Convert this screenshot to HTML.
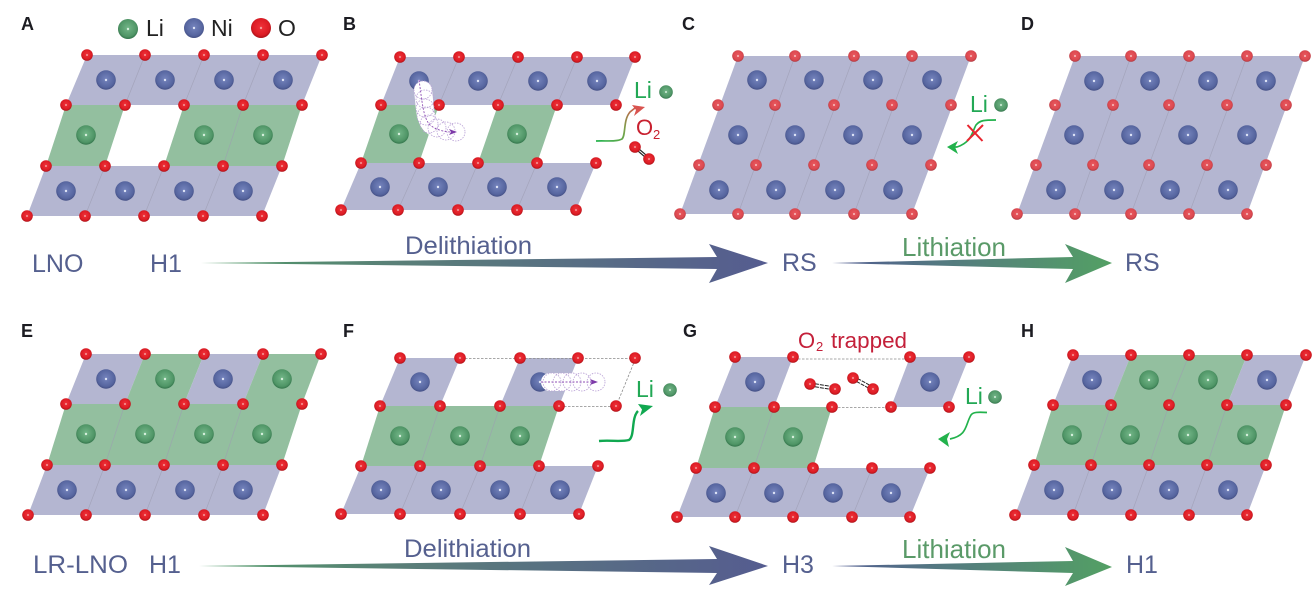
<!DOCTYPE html>
<html lang="en"><head><meta charset="utf-8"><title>LNO and LR-LNO delithiation and lithiation</title>
<style>
html,body{margin:0;padding:0;background:#fff;width:1314px;height:593px;overflow:hidden}
svg{display:block}
text{font-family:"Liberation Sans",sans-serif}
.lab{font-size:25px;fill:#55608f}
.pl{font-size:18px;font-weight:bold;fill:#1c1c22}
.leg{font-size:23px;fill:#222}
.del{font-size:25px;fill:#55608f}
.lit{font-size:26px;fill:#5a9a68}
.gr{font-size:22px;fill:#22a855}
.rd{font-size:22px;fill:#c4203a}
.p{fill:#b4b6d1}.g{fill:#93bf9f}
.d{stroke:#9c9cb2;stroke-width:.7;fill:none;opacity:.7}
.dash{stroke:#8a8a8a;stroke-width:.8;stroke-dasharray:2.5 1.5;fill:none}
.v{fill:none;stroke:#b9a0d6;stroke-width:.8;stroke-dasharray:1.5 1.2}
</style></head><body>
<svg xmlns="http://www.w3.org/2000/svg" width="1314" height="593" viewBox="0 0 1314 593">
<defs>
<radialGradient id="gN" cx=".5" cy=".45" r=".55"><stop offset="0" stop-color="#7584bd"/><stop offset=".78" stop-color="#56659f"/><stop offset="1" stop-color="#444f84"/></radialGradient>
<radialGradient id="gL" cx=".5" cy=".45" r=".55"><stop offset="0" stop-color="#73b688"/><stop offset=".78" stop-color="#4f9566"/><stop offset="1" stop-color="#32734a"/></radialGradient>
<radialGradient id="gO" cx=".5" cy=".45" r=".55"><stop offset="0" stop-color="#f0323a"/><stop offset=".75" stop-color="#dc1c24"/><stop offset="1" stop-color="#a81219"/></radialGradient>
<radialGradient id="gP" cx=".5" cy=".45" r=".55"><stop offset="0" stop-color="#ea5a60"/><stop offset=".75" stop-color="#db484f"/><stop offset="1" stop-color="#aa3a42"/></radialGradient>
<linearGradient id="gd" x1="0" x2="1" y1="0" y2="0"><stop offset="0" stop-color="#4f9a66"/><stop offset=".35" stop-color="#5a7f78"/><stop offset="1" stop-color="#555c90"/></linearGradient>
<linearGradient id="gi" x1="0" x2="1" y1="0" y2="0"><stop offset="0" stop-color="#4f5a90"/><stop offset=".4" stop-color="#547a80"/><stop offset="1" stop-color="#53a064"/></linearGradient>
<linearGradient id="gb" gradientUnits="userSpaceOnUse" x1="600" y1="141" x2="640" y2="108"><stop offset="0" stop-color="#2bb34f"/><stop offset=".5" stop-color="#7aa24a"/><stop offset="1" stop-color="#dc4f4c"/></linearGradient>
<g id="n"><circle r="9.8" fill="url(#gN)"/><circle r="1.2" fill="#dde3f6"/></g>
<g id="l"><circle r="9.8" fill="url(#gL)"/><circle r="1.2" fill="#d5efdc"/></g>
<g id="o"><circle r="5.8" fill="url(#gO)"/><circle r="1" fill="#f59a9a"/></g>
<g id="q"><circle r="5.8" fill="url(#gP)"/><circle r="1" fill="#f8c0c0"/></g>
<g id="ls"><circle r="6.8" fill="url(#gL)"/><circle r="1" fill="#d5efdc"/></g>
</defs>
<rect width="1314" height="593" fill="#fff"/>

<!-- Panel labels and legend -->
<text class="pl" x="21" y="30">A</text><text class="pl" x="343" y="30">B</text><text class="pl" x="682" y="30">C</text><text class="pl" x="1021" y="30">D</text>
<text class="pl" x="21" y="337">E</text><text class="pl" x="343" y="337">F</text><text class="pl" x="683" y="337">G</text><text class="pl" x="1021" y="337">H</text>
<circle cx="128" cy="29" r="10" fill="url(#gL)"/><circle cx="128" cy="29" r="1.2" fill="#d5efdc"/>
<circle cx="194" cy="28" r="10" fill="url(#gN)"/><circle cx="194" cy="28" r="1.2" fill="#dde3f6"/>
<circle cx="261" cy="28" r="10" fill="url(#gO)"/><circle cx="261" cy="28" r="1.2" fill="#f59a9a"/>
<text class="leg" x="146" y="36">Li</text><text class="leg" x="211" y="36">Ni</text><text class="leg" x="278" y="36">O</text>

<!-- Panel A -->
<polygon class="p" points="87,55 322,55 302,105 66,105"/>
<polygon class="g" points="66,105 125,105 105,166 46,166"/>
<polygon class="g" points="184,105 302,105 282,166 164,166"/>
<polygon class="p" points="46,166 282,166 262,216 27,216"/>
<path class="d" d="M145,55L125,105M204,55L184,105M263,55L243,105M243,105L223,166M105,166L85,216M164,166L144,216M223,166L203,216"/>
<use href="#n" x="106" y="80"/><use href="#n" x="165" y="80"/><use href="#n" x="224" y="80"/><use href="#n" x="283" y="80"/>
<use href="#l" x="86" y="135"/><use href="#l" x="204" y="135"/><use href="#l" x="263" y="135"/>
<use href="#n" x="66" y="191"/><use href="#n" x="125" y="191"/><use href="#n" x="184" y="191"/><use href="#n" x="243" y="191"/>
<use href="#o" x="87" y="55"/><use href="#o" x="145" y="55"/><use href="#o" x="204" y="55"/><use href="#o" x="263" y="55"/><use href="#o" x="322" y="55"/>
<use href="#o" x="66" y="105"/><use href="#o" x="125" y="105"/><use href="#o" x="184" y="105"/><use href="#o" x="243" y="105"/><use href="#o" x="302" y="105"/>
<use href="#o" x="46" y="166"/><use href="#o" x="105" y="166"/><use href="#o" x="164" y="166"/><use href="#o" x="223" y="166"/><use href="#o" x="282" y="166"/>
<use href="#o" x="27" y="216"/><use href="#o" x="85" y="216"/><use href="#o" x="144" y="216"/><use href="#o" x="203" y="216"/><use href="#o" x="262" y="216"/>

<!-- Panel B -->
<polygon class="p" points="400,57 635,57 616,105 381,105"/>
<polygon class="g" points="381,105 439,105 419,163 361,163"/>
<polygon class="g" points="498,105 557,105 537,163 478,163"/>
<polygon class="p" points="361,163 596,163 576,210 341,210"/>
<path class="d" d="M459,57L439,105M518,57L498,105M577,57L557,105M419,163L398,210M478,163L458,210M537,163L517,210"/>
<use href="#n" x="419" y="81"/><use href="#n" x="478" y="81"/><use href="#n" x="538" y="81"/><use href="#n" x="597" y="81"/>
<use href="#l" x="399" y="134"/><use href="#l" x="517" y="134"/>
<use href="#n" x="380" y="187"/><use href="#n" x="438" y="187"/><use href="#n" x="497" y="187"/><use href="#n" x="557" y="187"/>
<use href="#o" x="400" y="57"/><use href="#o" x="459" y="57"/><use href="#o" x="518" y="57"/><use href="#o" x="577" y="57"/><use href="#o" x="635" y="57"/>
<use href="#o" x="381" y="105"/><use href="#o" x="439" y="105"/><use href="#o" x="498" y="105"/><use href="#o" x="557" y="105"/><use href="#o" x="616" y="105"/>
<use href="#o" x="361" y="163"/><use href="#o" x="419" y="163"/><use href="#o" x="478" y="163"/><use href="#o" x="537" y="163"/><use href="#o" x="596" y="163"/>
<use href="#o" x="341" y="210"/><use href="#o" x="398" y="210"/><use href="#o" x="458" y="210"/><use href="#o" x="517" y="210"/><use href="#o" x="576" y="210"/>
<path d="M423,90C425,105 424,118 431,125C438,131 447,132 456,132" fill="none" stroke="#fff" stroke-width="18" stroke-linecap="round"/>
<circle class="v" cx="423" cy="90" r="9"/><circle class="v" cx="425" cy="99" r="9"/><circle class="v" cx="425" cy="108" r="9"/><circle class="v" cx="426" cy="116" r="9"/><circle class="v" cx="429" cy="124" r="9"/><circle class="v" cx="437" cy="128" r="9"/><circle class="v" cx="446" cy="131" r="9"/><circle class="v" cx="456" cy="132" r="9"/>
<path d="M419,80C422,100 423,118 430,125C436,130 445,132 452,132" fill="none" stroke="#8f4fb5" stroke-width=".9" stroke-dasharray="2 1.5"/>
<polygon points="457,132 449,129 451,132 449,135" fill="#7d3aa8"/>
<text class="gr" x="634" y="98" style="font-size:23px">Li</text>
<use href="#ls" x="666" y="92"/>
<text class="rd" x="636" y="135" style="fill:#c8202f">O</text><text x="653" y="139" style="font-size:13px;fill:#c8202f">2</text>
<path d="M596,141C606,140.5 616,142 622,139C626,135 623,120 630,112L635,108" fill="none" stroke="url(#gb)" stroke-width="1.7"/>
<polygon points="645,107 632,105 636,110 634,116" fill="#d9534f"/>
<line x1="635" y1="147" x2="649" y2="159" stroke="#222" stroke-width="3.4"/><line x1="635" y1="147" x2="649" y2="159" stroke="#fff" stroke-width="1"/>
<use href="#o" x="635" y="147"/><use href="#o" x="649" y="159"/>

<!-- Panel C -->
<polygon class="p" points="738,56 971,56 912,214 680,214"/>
<path class="d" d="M795,56L738,214M854,56L795,214M912,56L854,214"/>
<use href="#n" x="757" y="80"/><use href="#n" x="814" y="80"/><use href="#n" x="873" y="80"/><use href="#n" x="932" y="80"/>
<use href="#n" x="738" y="135"/><use href="#n" x="795" y="135"/><use href="#n" x="853" y="135"/><use href="#n" x="912" y="135"/>
<use href="#n" x="719" y="190"/><use href="#n" x="776" y="190"/><use href="#n" x="835" y="190"/><use href="#n" x="893" y="190"/>
<use href="#q" x="738" y="56"/><use href="#q" x="795" y="56"/><use href="#q" x="854" y="56"/><use href="#q" x="912" y="56"/><use href="#q" x="971" y="56"/>
<use href="#q" x="718" y="105"/><use href="#q" x="775" y="105"/><use href="#q" x="834" y="105"/><use href="#q" x="892" y="105"/><use href="#q" x="951" y="105"/>
<use href="#q" x="699" y="165"/><use href="#q" x="756" y="165"/><use href="#q" x="814" y="165"/><use href="#q" x="872" y="165"/><use href="#q" x="931" y="165"/>
<use href="#q" x="680" y="214"/><use href="#q" x="738" y="214"/><use href="#q" x="795" y="214"/><use href="#q" x="854" y="214"/><use href="#q" x="912" y="214"/>
<text class="gr" x="970" y="112" style="font-size:23px">Li</text>
<use href="#ls" x="1001" y="105"/>
<path d="M996,120C985,120 980,120 976,125C972,132 972,142 957,147L952,147" fill="none" stroke="#22b24c" stroke-width="1.7"/>
<polygon points="947,147 958,141 955,147 958,154" fill="#22b24c"/>
<path d="M967.5,125L982.5,141M983,125L967,141" stroke="#e8252f" stroke-width="2" fill="none"/>

<!-- Panel D -->
<polygon class="p" points="1075,56 1305,56 1247,214 1017,214"/>
<path class="d" d="M1131,56L1075,214M1189,56L1131,214M1247,56L1189,214"/>
<use href="#n" x="1094" y="81"/><use href="#n" x="1150" y="81"/><use href="#n" x="1208" y="81"/><use href="#n" x="1266" y="81"/>
<use href="#n" x="1074" y="135"/><use href="#n" x="1131" y="135"/><use href="#n" x="1188" y="135"/><use href="#n" x="1247" y="135"/>
<use href="#n" x="1056" y="190"/><use href="#n" x="1114" y="190"/><use href="#n" x="1170" y="190"/><use href="#n" x="1228" y="190"/>
<use href="#q" x="1075" y="56"/><use href="#q" x="1131" y="56"/><use href="#q" x="1189" y="56"/><use href="#q" x="1247" y="56"/><use href="#q" x="1305" y="56"/>
<use href="#q" x="1055" y="105"/><use href="#q" x="1113" y="105"/><use href="#q" x="1169" y="105"/><use href="#q" x="1227" y="105"/><use href="#q" x="1286" y="105"/>
<use href="#q" x="1036" y="165"/><use href="#q" x="1093" y="165"/><use href="#q" x="1149" y="165"/><use href="#q" x="1207" y="165"/><use href="#q" x="1266" y="165"/>
<use href="#q" x="1017" y="214"/><use href="#q" x="1075" y="214"/><use href="#q" x="1131" y="214"/><use href="#q" x="1189" y="214"/><use href="#q" x="1247" y="214"/>

<!-- Top row labels and arrows -->
<text class="lab" x="32" y="272">LNO</text>
<text class="lab" x="150" y="272">H1</text>
<text class="del" x="405" y="254" textLength="127" lengthAdjust="spacingAndGlyphs">Delithiation</text>
<polygon points="201,263 717,257 709,244 768,263 709,283 717,269" fill="url(#gd)"/>
<text class="lab" x="782" y="271">RS</text>
<text class="lit" x="902" y="256" textLength="104" lengthAdjust="spacingAndGlyphs">Lithiation</text>
<polygon points="832,263 1073,257 1065,244 1112,263 1065,283 1073,269" fill="url(#gi)"/>
<text class="lab" x="1125" y="271">RS</text>

<!-- Panel E -->
<polygon class="p" points="86,354 145,354 125,404 66,404"/>
<polygon class="g" points="145,354 204,354 184,404 125,404"/>
<polygon class="p" points="204,354 263,354 243,404 184,404"/>
<polygon class="g" points="263,354 321,354 302,404 243,404"/>
<polygon class="g" points="66,404 302,404 282,465 47,465"/>
<polygon class="p" points="47,465 282,465 263,515 28,515"/>
<path class="d" d="M125,404L105,465M184,404L164,465M243,404L223,465M105,465L86,515M164,465L145,515M223,465L204,515"/>
<use href="#n" x="106" y="379"/><use href="#l" x="165" y="379"/><use href="#n" x="223" y="379"/><use href="#l" x="282" y="379"/>
<use href="#l" x="86" y="434"/><use href="#l" x="145" y="434"/><use href="#l" x="204" y="434"/><use href="#l" x="262" y="434"/>
<use href="#n" x="67" y="490"/><use href="#n" x="126" y="490"/><use href="#n" x="185" y="490"/><use href="#n" x="243" y="490"/>
<use href="#o" x="86" y="354"/><use href="#o" x="145" y="354"/><use href="#o" x="204" y="354"/><use href="#o" x="263" y="354"/><use href="#o" x="321" y="354"/>
<use href="#o" x="66" y="404"/><use href="#o" x="125" y="404"/><use href="#o" x="184" y="404"/><use href="#o" x="243" y="404"/><use href="#o" x="302" y="404"/>
<use href="#o" x="47" y="465"/><use href="#o" x="105" y="465"/><use href="#o" x="164" y="465"/><use href="#o" x="223" y="465"/><use href="#o" x="282" y="465"/>
<use href="#o" x="28" y="515"/><use href="#o" x="86" y="515"/><use href="#o" x="145" y="515"/><use href="#o" x="204" y="515"/><use href="#o" x="263" y="515"/>

<!-- Panel F -->
<polygon class="p" points="400,358 460,358 440,406 380,406"/>
<polygon class="p" points="520,358 578,358 559,406 500,406"/>
<polygon class="g" points="380,406 559,406 539,466 361,466"/>
<polygon class="p" points="361,466 598,466 579,514 341,514"/>
<path class="d" d="M440,406L420,466M500,406L480,466M420,466L400,514M480,466L460,514M539,466L520,514"/>
<path class="dash" d="M465,358.5H630M635,360L617,404M564,406.5H611"/>
<use href="#n" x="420" y="382"/><use href="#n" x="540" y="382"/>
<use href="#l" x="400" y="436"/><use href="#l" x="460" y="436"/><use href="#l" x="520" y="436"/>
<use href="#n" x="381" y="490"/><use href="#n" x="441" y="490"/><use href="#n" x="500" y="490"/><use href="#n" x="560" y="490"/>
<use href="#o" x="400" y="358"/><use href="#o" x="460" y="358"/><use href="#o" x="520" y="358"/><use href="#o" x="578" y="358"/><use href="#o" x="635" y="358"/>
<use href="#o" x="380" y="406"/><use href="#o" x="440" y="406"/><use href="#o" x="500" y="406"/><use href="#o" x="559" y="406"/><use href="#o" x="616" y="406"/>
<use href="#o" x="361" y="466"/><use href="#o" x="420" y="466"/><use href="#o" x="480" y="466"/><use href="#o" x="539" y="466"/><use href="#o" x="598" y="466"/>
<use href="#o" x="341" y="514"/><use href="#o" x="400" y="514"/><use href="#o" x="460" y="514"/><use href="#o" x="520" y="514"/><use href="#o" x="579" y="514"/>
<line x1="550" y1="382" x2="596" y2="382" stroke="#fff" stroke-width="18" stroke-linecap="round"/>
<circle class="v" cx="552" cy="382" r="9"/><circle class="v" cx="562" cy="382" r="9"/><circle class="v" cx="572" cy="382" r="9"/><circle class="v" cx="582" cy="382" r="9"/><circle class="v" cx="596" cy="382" r="9"/>
<line x1="541" y1="382" x2="592" y2="382" stroke="#8f4fb5" stroke-width=".9" stroke-dasharray="2 1.5"/>
<polygon points="598,382 590,379 592,382 590,385" fill="#7d3aa8"/>
<text class="gr" x="636" y="397" style="font-size:23px">Li</text>
<use href="#ls" x="670" y="390"/>
<path d="M599,441C610,440 622,442 629,440C635,436 631,418 638,411" fill="none" stroke="#10a850" stroke-width="2.4"/>
<polygon points="653,406 638,404 642,409.5 640,416" fill="#10a850"/>

<!-- Panel G -->
<polygon class="p" points="735,357 793,357 774,407 715,407"/>
<polygon class="p" points="910,357 969,357 949,407 891,407"/>
<polygon class="g" points="715,407 832,407 813,468 696,468"/>
<polygon class="p" points="696,468 930,468 910,517 677,517"/>
<path class="d" d="M774,407L754,468M754,468L735,517M813,468L793,517M872,468L852,517"/>
<path class="dash" d="M798,359H905M838,407.5H886"/>
<use href="#n" x="755" y="382"/><use href="#n" x="930" y="382"/>
<use href="#l" x="735" y="437"/><use href="#l" x="793" y="437"/>
<use href="#n" x="716" y="493"/><use href="#n" x="774" y="493"/><use href="#n" x="833" y="493"/><use href="#n" x="891" y="493"/>
<use href="#o" x="735" y="357"/><use href="#o" x="793" y="357"/><use href="#o" x="910" y="357"/><use href="#o" x="969" y="357"/>
<use href="#o" x="715" y="407"/><use href="#o" x="774" y="407"/><use href="#o" x="832" y="407"/><use href="#o" x="891" y="407"/><use href="#o" x="949" y="407"/>
<use href="#o" x="696" y="468"/><use href="#o" x="754" y="468"/><use href="#o" x="813" y="468"/><use href="#o" x="872" y="468"/><use href="#o" x="930" y="468"/>
<use href="#o" x="677" y="517"/><use href="#o" x="735" y="517"/><use href="#o" x="793" y="517"/><use href="#o" x="852" y="517"/><use href="#o" x="910" y="517"/>
<path d="M810,383L835,387M810,386L835,390M853,376L873,387M852,379L872,390" stroke="#222" stroke-width="1" stroke-dasharray="4 1" fill="none"/>
<use href="#o" x="810" y="384"/><use href="#o" x="835" y="389"/><use href="#o" x="853" y="378"/><use href="#o" x="873" y="389"/>
<text class="rd" x="798" y="348">O</text><text x="816" y="351" style="font-size:13px;fill:#c4203a">2</text><text class="rd" x="831" y="348" textLength="76" lengthAdjust="spacingAndGlyphs">trapped</text>
<text class="gr" x="965" y="404" style="font-size:23px">Li</text>
<use href="#ls" x="995" y="397"/>
<path d="M987,412.500C978,412 973,412 971,415C965,425 968,435 950,439" fill="none" stroke="#22b24c" stroke-width="1.7"/>
<polygon points="938,439 950,432 947,439 949,447" fill="#22b24c"/>

<!-- Panel H -->
<polygon class="p" points="1073,355 1131,355 1111,405 1053,405"/>
<polygon class="g" points="1131,355 1247,355 1227,405 1111,405"/>
<polygon class="p" points="1247,355 1306,355 1286,405 1227,405"/>
<polygon class="g" points="1053,405 1286,405 1266,465 1034,465"/>
<polygon class="p" points="1034,465 1266,465 1247,515 1015,515"/>
<path class="d" d="M1189,355L1169,405M1111,405L1091,465M1169,405L1149,465M1227,405L1207,465M1091,465L1073,515M1149,465L1131,515M1207,465L1189,515"/>
<use href="#n" x="1092" y="380"/><use href="#l" x="1149" y="380"/><use href="#l" x="1208" y="380"/><use href="#n" x="1267" y="380"/>
<use href="#l" x="1072" y="435"/><use href="#l" x="1130" y="435"/><use href="#l" x="1188" y="435"/><use href="#l" x="1247" y="435"/>
<use href="#n" x="1054" y="490"/><use href="#n" x="1112" y="490"/><use href="#n" x="1169" y="490"/><use href="#n" x="1228" y="490"/>
<use href="#o" x="1073" y="355"/><use href="#o" x="1131" y="355"/><use href="#o" x="1189" y="355"/><use href="#o" x="1247" y="355"/><use href="#o" x="1306" y="355"/>
<use href="#o" x="1053" y="405"/><use href="#o" x="1111" y="405"/><use href="#o" x="1169" y="405"/><use href="#o" x="1227" y="405"/><use href="#o" x="1286" y="405"/>
<use href="#o" x="1034" y="465"/><use href="#o" x="1091" y="465"/><use href="#o" x="1149" y="465"/><use href="#o" x="1207" y="465"/><use href="#o" x="1266" y="465"/>
<use href="#o" x="1015" y="515"/><use href="#o" x="1073" y="515"/><use href="#o" x="1131" y="515"/><use href="#o" x="1189" y="515"/><use href="#o" x="1247" y="515"/>

<!-- Bottom row labels and arrows -->
<text class="lab" x="33" y="573" textLength="95" lengthAdjust="spacingAndGlyphs">LR-LNO</text>
<text class="lab" x="149" y="573">H1</text>
<text class="del" x="404" y="557" textLength="127" lengthAdjust="spacingAndGlyphs">Delithiation</text>
<polygon points="199,566 717,559 709,546 768,566 709,585 717,573" fill="url(#gd)"/>
<text class="lab" x="782" y="573">H3</text>
<text class="lit" x="902" y="558" textLength="104" lengthAdjust="spacingAndGlyphs">Lithiation</text>
<polygon points="832,566 1073,561 1065,547 1112,567 1065,586 1073,573" fill="url(#gi)"/>
<text class="lab" x="1126" y="573">H1</text>
</svg>
</body></html>
